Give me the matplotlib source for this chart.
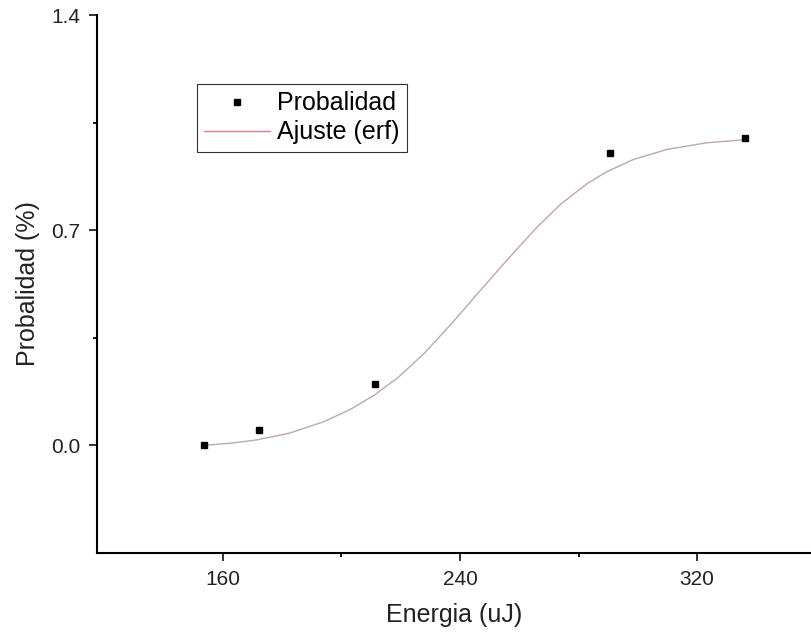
import matplotlib
matplotlib.use("Agg")
import matplotlib.pyplot as plt
from matplotlib.ticker import FixedLocator

plt.rcParams['font.family'] = ['Liberation Sans', 'DejaVu Sans']

# Measured points
energy = [153.6, 172.2, 211.4, 290.6, 336.1]
prob = [0.0, 0.05, 0.199, 0.951, 1.0]

# Fit curve (erf)
fit_x = [153.5, 163.5, 171.5, 182.5, 194, 203, 211, 219, 228, 237.5,
         246.5, 257, 266, 274, 283, 289.5, 298.5, 310, 323, 337]
fit_y = [0.0, 0.008, 0.018, 0.04, 0.077, 0.117, 0.163, 0.22, 0.3, 0.4,
         0.5, 0.615, 0.71, 0.785, 0.852, 0.89, 0.93, 0.963, 0.984, 0.995]

x_ticks = [160, 240, 320]
x_minor = [200, 280]
y_ticks = [0.0, 0.7, 1.4]
y_minor = [0.35, 1.05]
y_tick_labels = ['0.0', '0.7', '1.4']

fig = plt.figure(figsize=(8.12, 6.37), dpi=100)
ax = fig.add_axes([97/812, 1-553/637, 1-97/812, (553-15)/637])

ax.plot(fit_x, fit_y, color='#bfa6aa', lw=1.0, label='Ajuste (erf)', zorder=2)
ax.plot(energy, prob, 's', color='black', ms=4.5, label='Probalidad', zorder=3, linestyle='none')

ax.set_xlim(117.5, 358.8)
ax.set_ylim(-0.35, 1.4)

ax.set_xticks(x_ticks)
ax.set_yticks(y_ticks)
ax.set_yticklabels(y_tick_labels)
ax.xaxis.set_minor_locator(FixedLocator(x_minor))
ax.yaxis.set_minor_locator(FixedLocator(y_minor))

for s in ['top', 'right']:
    ax.spines[s].set_visible(False)
for s in ['left', 'bottom']:
    ax.spines[s].set_linewidth(1.5)

ax.tick_params(which='major', direction='out', length=6, width=1.3, labelsize=15, pad=6, colors='#222222')
ax.tick_params(which='minor', direction='out', length=3, width=1.3)

ax.set_xlabel('Energia (uJ)', fontsize=18, labelpad=10, color='#222222')
ax.set_ylabel('Probalidad (%)', fontsize=18, labelpad=8, color='#222222')

h, l = ax.get_legend_handles_labels()
leg = ax.legend([h[1], h[0]], [l[1], l[0]], loc='upper left',
                bbox_to_anchor=(197/812, 1-84/637), bbox_transform=fig.transFigure,
                fontsize=18, frameon=True, fancybox=False, framealpha=1,
                edgecolor='#333333', borderpad=0.3, handlelength=2.6,
                handletextpad=0.3, labelspacing=0.2, borderaxespad=0)
leg.get_frame().set_linewidth(0.8)
leg.get_lines()[1].set_color('#e07a88')

fig.savefig('out.png', dpi=100)
